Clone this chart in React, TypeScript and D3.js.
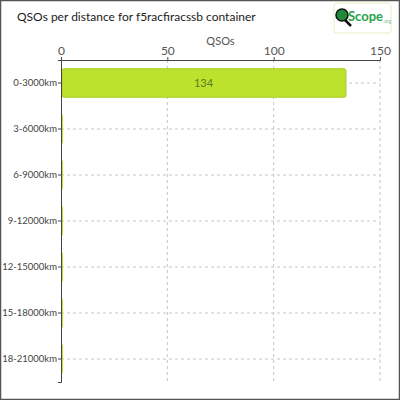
import React, { useEffect, useRef } from 'react';
import * as d3 from 'd3';

const categories = ['0-3000km', '3-6000km', '6-9000km', '9-12000km', '12-15000km', '15-18000km', '18-21000km'];
const qsos = [134, 0, 0, 0, 0, 0, 0];
const xTicks = [0, 50, 100, 150];

const width = 400;
const height = 400;

const App: React.FC = () => {
  const svgRef = useRef<SVGSVGElement>(null);

  useEffect(() => {
    if (!svgRef.current) return;
    const svg = d3.select(svgRef.current);
    svg.selectAll('*').remove();

    const margin = { top: 60, right: 20, bottom: 18, left: 61 };
    const innerWidth = width - margin.left - margin.right;
    const innerHeight = height - margin.top - margin.bottom;
    const font = 'Lato, "DejaVu Sans", sans-serif';

    svg.append('rect')
      .attr('x', 0.5).attr('y', 0.5)
      .attr('width', width - 1).attr('height', height - 1)
      .attr('fill', '#fff')
      .attr('stroke', '#555')
      .attr('stroke-width', 1.5);

    const g = svg.append('g')
      .attr('transform', `translate(${margin.left},${margin.top})`);

    const xScale = d3.scaleLinear().domain([0, 150]).range([0, innerWidth]);
    const yScale = d3.scaleBand<string>()
      .domain(categories)
      .range([0, innerHeight])
      .paddingInner(0.38)
      .paddingOuter(0.19);

    // Grid lines
    g.selectAll('.vgrid')
      .data(xTicks.slice(1))
      .enter()
      .append('line')
      .attr('x1', d => xScale(d)).attr('x2', d => xScale(d))
      .attr('y1', 0).attr('y2', innerHeight)
      .attr('stroke', '#c4c4c4')
      .attr('stroke-dasharray', '3,3');

    g.selectAll('.hgrid')
      .data(categories)
      .enter()
      .append('line')
      .attr('x1', 0).attr('x2', innerWidth)
      .attr('y1', d => (yScale(d) || 0) + yScale.bandwidth() / 2)
      .attr('y2', d => (yScale(d) || 0) + yScale.bandwidth() / 2)
      .attr('stroke', '#c4c4c4')
      .attr('stroke-dasharray', '3,3');

    // Bars (zero values still show as a thin sliver)
    g.selectAll('.bar')
      .data(categories)
      .enter()
      .append('rect')
      .attr('x', 1)
      .attr('y', d => yScale(d) || 0)
      .attr('width', (d, i) => Math.max(1, xScale(qsos[i]) - 1))
      .attr('height', yScale.bandwidth())
      .attr('rx', (d, i) => (qsos[i] > 0 ? 2 : 0))
      .attr('fill', '#bde22e')
      .attr('stroke', (d, i) => (qsos[i] > 0 ? '#a6cc22' : 'none'))
      .attr('stroke-width', 1);

    // Value labels
    g.selectAll('.val')
      .data(categories.filter((_, i) => qsos[i] > 0))
      .enter()
      .append('text')
      .attr('x', d => xScale(qsos[categories.indexOf(d)]) / 2)
      .attr('y', d => (yScale(d) || 0) + yScale.bandwidth() / 2)
      .attr('dy', '0.35em')
      .attr('text-anchor', 'middle')
      .style('font-family', font)
      .style('font-size', '11px')
      .attr('fill', '#5a7a20')
      .text(d => qsos[categories.indexOf(d)]);

    // Axes
    const xAxis = g.append('g')
      .call(d3.axisTop(xScale).tickValues(xTicks).tickSize(3).tickPadding(2));
    xAxis.select('.domain').attr('stroke', '#444');
    xAxis.selectAll('.tick line').attr('stroke', '#444');
    xAxis.selectAll('.tick text')
      .style('font-family', font)
      .style('font-size', '12px')
      .attr('fill', '#555');

    const yAxis = g.append('g')
      .call(d3.axisLeft(yScale).tickSize(3).tickPadding(1));
    yAxis.select('.domain').attr('stroke', '#444');
    yAxis.selectAll('.tick line').attr('stroke', '#444');
    yAxis.selectAll('.tick text')
      .style('font-family', font)
      .style('font-size', '9.5px')
      .attr('fill', '#444');

    // Axis title
    g.append('text')
      .attr('x', innerWidth / 2)
      .attr('y', -15)
      .attr('text-anchor', 'middle')
      .style('font-family', font)
      .style('font-size', '11px')
      .attr('fill', '#555')
      .text('QSOs');

    // Chart title
    svg.append('text')
      .attr('x', 17)
      .attr('y', 21)
      .style('font-family', font)
      .style('font-size', '12px')
      .attr('fill', '#222')
      .text('QSOs per distance for f5racfiracssb container');

    // Logo
    const logo = svg.append('g').attr('transform', 'translate(334,3)');
    logo.append('rect')
      .attr('width', 57).attr('height', 30).attr('rx', 3)
      .attr('fill', '#fff').attr('stroke', '#e6efc8');
    logo.append('line')
      .attr('x1', 10).attr('y1', 16).attr('x2', 17).attr('y2', 23)
      .attr('stroke', '#111').attr('stroke-width', 2.5);
    logo.append('circle')
      .attr('cx', 8).attr('cy', 12).attr('r', 6)
      .attr('fill', '#1f8a3a').attr('stroke', '#111').attr('stroke-width', 1.5);
    logo.append('text')
      .attr('x', 14).attr('y', 18)
      .style('font-family', font)
      .style('font-size', '13px')
      .style('font-weight', 'bold')
      .attr('fill', '#2aa34a')
      .text('Scope');
    logo.append('text')
      .attr('x', 49).attr('y', 20)
      .style('font-family', font)
      .style('font-size', '5px')
      .attr('fill', '#7cc38d')
      .text('.org');
  }, []);

  return (
    <div style={{ position: 'fixed', top: 0, left: 0 }}>
      <svg ref={svgRef} width={width} height={height} style={{ display: 'block' }} />
    </div>
  );
};

export default App;
